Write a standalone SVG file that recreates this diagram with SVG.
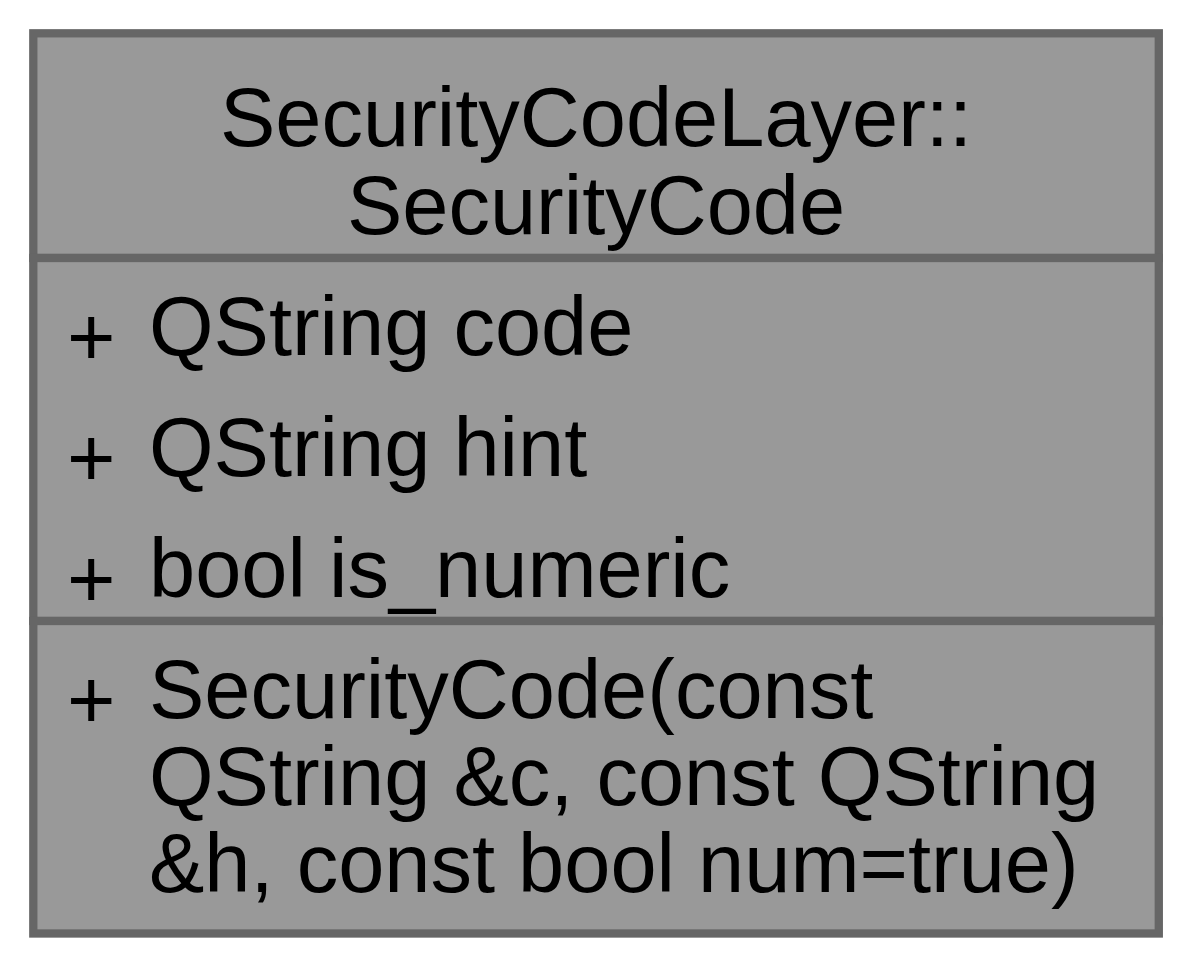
<svg xmlns="http://www.w3.org/2000/svg" width="1192" height="967" viewBox="0 0 1192 967">
<style>
.sec{fill:#999999;stroke:#666666;stroke-width:8.3}
text{font-family:"Liberation Sans",Arial,Helvetica,sans-serif;font-size:83px;fill:#000000}
.t{text-anchor:middle}
</style>
<rect x="0" y="0" width="1192" height="967" fill="#ffffff"/>
<g id="node1">
<rect class="sec" x="33.3" y="33.3" width="1125.5" height="224.7"/>
<rect class="sec" x="33.3" y="258" width="1125.5" height="363"/>
<rect class="sec" x="33.3" y="621" width="1125.5" height="312.5"/>
<text class="t" x="596" y="146">SecurityCodeLayer::</text>
<text class="t" x="596" y="234">SecurityCode</text>
<text x="67" y="365">+</text>
<text x="149" y="355">QString code</text>
<text x="67" y="486">+</text>
<text x="149" y="476">QString hint</text>
<text x="67" y="607">+</text>
<text x="149" y="597">bool is_numeric</text>
<text x="67" y="728">+</text>
<text x="149" y="718">SecurityCode(const</text>
<text x="149" y="805">QString &amp;c, const QString</text>
<text x="149" y="892">&amp;h, const bool num=true)</text>
</g>
<g id="connectors"></g>
</svg>
